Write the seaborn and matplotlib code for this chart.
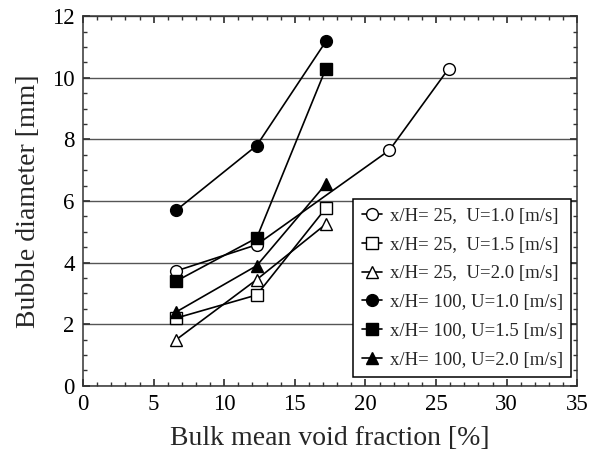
import matplotlib
matplotlib.use("Agg")
import matplotlib.pyplot as plt
import seaborn as sns
from matplotlib.ticker import MultipleLocator

sns.set_theme(style="white")
plt.rcParams['font.family'] = ['Liberation Serif', 'DejaVu Serif']

labels = ["x/H= 25,  U=1.0 [m/s]", "x/H= 25,  U=1.5 [m/s]", "x/H= 25,  U=2.0 [m/s]",
          "x/H= 100, U=1.0 [m/s]", "x/H= 100, U=1.5 [m/s]", "x/H= 100, U=2.0 [m/s]"]

x_25_u10 = [6.6, 12.3, 21.7, 25.9]
y_25_u10 = [3.73, 4.58, 7.65, 10.3]
x_25_u15 = [6.6, 12.3, 17.2]
y_25_u15 = [2.2, 2.95, 5.77]
x_25_u20 = [6.6, 12.3, 17.2]
y_25_u20 = [1.5, 3.45, 5.25]
x_100_u10 = [6.6, 12.3, 17.2]
y_100_u10 = [5.7, 7.8, 11.18]
x_100_u15 = [6.6, 12.3, 17.2]
y_100_u15 = [3.4, 4.8, 10.3]
x_100_u20 = [6.6, 12.3, 17.2]
y_100_u20 = [2.4, 3.9, 6.55]

series = [(x_25_u10, y_25_u10, 'o', 'white'),
          (x_25_u15, y_25_u15, 's', 'white'),
          (x_25_u20, y_25_u20, '^', 'white'),
          (x_100_u10, y_100_u10, 'o', 'black'),
          (x_100_u15, y_100_u15, 's', 'black'),
          (x_100_u20, y_100_u20, '^', 'black')]

fig, ax = plt.subplots(figsize=(5.89, 4.61), dpi=100)
fig.subplots_adjust(left=0.141, right=0.980, top=0.965, bottom=0.163)

for (xs, ys, m, fc), lab in zip(series, labels):
    ms = {'o': 8.5, 's': 8, '^': 9}[m]
    sns.lineplot(x=xs, y=ys, ax=ax, color='black', lw=1.2, marker=m, markersize=ms,
                 markerfacecolor=fc, markeredgecolor='black', markeredgewidth=1.0,
                 label=lab, sort=False, zorder=3)

ax.set_xlim(0, 35)
ax.set_ylim(0, 12)
ax.xaxis.set_major_locator(MultipleLocator(5))
ax.xaxis.set_minor_locator(MultipleLocator(1))
ax.yaxis.set_major_locator(MultipleLocator(2))
ax.yaxis.set_minor_locator(MultipleLocator(0.5))
ax.yaxis.grid(True, color='#555555', lw=1.0)
ax.xaxis.grid(False)
ax.tick_params(which='both', direction='in', top=True, right=True, bottom=True, left=True,
               colors='#333333', labelcolor='black')
ax.tick_params(which='major', length=5, labelsize=16.5, pad=6)
ax.tick_params(which='minor', length=3)
for s in ax.spines.values():
    s.set_color('#333333')
    s.set_linewidth(1.1)

ax.set_xlabel("Bulk mean void fraction [%]", fontsize=20, labelpad=8)
ax.set_ylabel("Bubble diameter [mm]", fontsize=20, labelpad=8)

leg = ax.legend(loc='lower right', bbox_to_anchor=(0.988, 0.024), fontsize=13.5,
                frameon=True, fancybox=False, edgecolor='black', framealpha=1,
                handlelength=1.1, handletextpad=0.4, labelspacing=0.62, borderpad=0.45,
                borderaxespad=0)
leg.get_frame().set_linewidth(1.1)

fig.savefig("out.png", dpi=100)
